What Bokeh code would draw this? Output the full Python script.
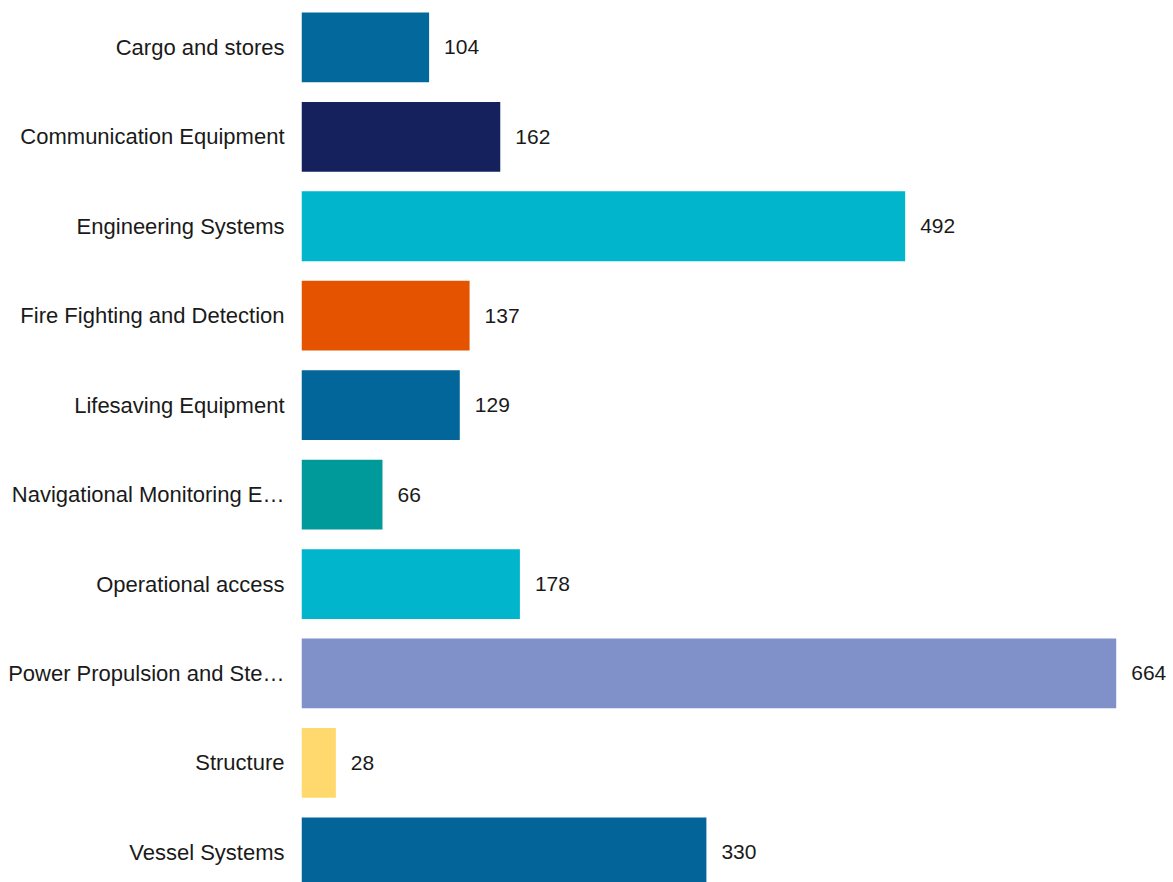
from bokeh.plotting import figure
from bokeh.models import ColumnDataSource, Range1d, FixedTicker
from bokeh.core.properties import value
from bokeh.embed import file_html
from bokeh.resources import INLINE

categories = [
    "Cargo and stores",
    "Communication Equipment",
    "Engineering Systems",
    "Fire Fighting and Detection",
    "Lifesaving Equipment",
    "Navigational Monitoring E…",
    "Operational access",
    "Power Propulsion and Ste…",
    "Structure",
    "Vessel Systems",
]
counts = [104, 162, 492, 137, 129, 66, 178, 664, 28, 330]
colors = ["#03689b", "#15215c", "#00b5cc", "#e65300", "#03669a",
          "#009a9a", "#00b5cc", "#8090c8", "#ffd86e", "#03649a"]

positions = list(range(len(categories)))
source = ColumnDataSource(dict(
    y=positions, cat=categories, v=counts, c=colors,
    lbl=[str(v) for v in counts],
))

p = figure(width=1173, height=882, output_backend="svg", toolbar_location=None,
           x_range=Range1d(0, 710.7), y_range=Range1d(9.337, -0.524),
           min_border_left=301, min_border_right=0, min_border_top=0,
           min_border_bottom=0)
p.outline_line_color = None
p.background_fill_color = "white"
p.border_fill_color = "white"
p.xgrid.visible = False
p.ygrid.visible = False
p.xaxis.visible = False

p.hbar(y="y", right="v", left=0, height=0.78, fill_color="c", line_color=None,
       source=source)
p.text(x="v", y="y", text="lbl", x_offset=15, text_baseline="middle",
       text_align="left", text_font=value("Liberation Sans"),
       text_font_size="21px", text_color="#1a1a1a", source=source)

ax = p.yaxis[0]
ax.ticker = FixedTicker(ticks=positions)
ax.major_label_overrides = {i: c for i, c in zip(positions, categories)}
ax.axis_line_color = None
ax.major_tick_line_color = None
ax.minor_tick_line_color = None
ax.major_tick_out = 0
ax.major_tick_in = 0
ax.minor_tick_out = 0
ax.major_label_standoff = 17
ax.major_label_text_font = "Liberation Sans"
ax.major_label_text_font_size = "22px"
ax.major_label_text_color = "#1a1a1a"

open("out.html", "w").write(file_html(p, INLINE))
